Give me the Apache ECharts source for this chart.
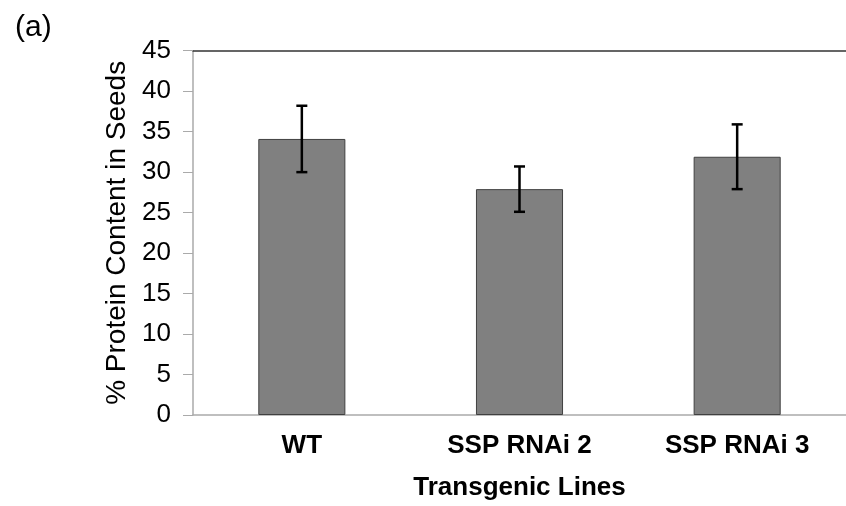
<!DOCTYPE html>
<html>
<head>
<meta charset="utf-8">
<script src="https://cdn.jsdelivr.net/npm/echarts@6/dist/echarts.min.js"></script>
<style>html,body{margin:0;padding:0;background:#fff;}#c{width:846px;height:506px;}</style>
</head>
<body>
<div id="c"></div>
<script>
var categories = ['WT', 'SSP RNAi 2', 'SSP RNAi 3'];
var proteinValues = [34.1, 27.9, 31.9];
var errorValues = [4.1, 2.8, 4.0];
var yTicks = [0, 5, 10, 15, 20, 25, 30, 35, 40, 45];

var chart = echarts.init(document.getElementById('c'), null, {renderer: 'canvas'});
var FONT = '"Liberation Sans", Arial, sans-serif';
var errData = categories.map(function (c, i) {
  return [i, proteinValues[i] - errorValues[i], proteinValues[i] + errorValues[i]];
});

chart.setOption({
  animation: false,
  backgroundColor: '#fff',
  graphic: [{
    type: 'text', left: 15, top: 13,
    style: {text: '(a)', font: '30px ' + FONT, fill: '#000'}
  }],
  grid: {left: 193, top: 50.7, width: 663, height: 365},
  xAxis: [{
    type: 'category', data: categories, position: 'bottom',
    axisLine: {lineStyle: {color: '#aaaaaa', width: 1.5}},
    axisTick: {show: false},
    axisLabel: {color: '#000', fontFamily: FONT, fontSize: 26, fontWeight: 'bold', margin: 18, lineHeight: 26},
    name: 'Transgenic Lines', nameLocation: 'middle', nameGap: 60,
    nameTextStyle: {color: '#000', fontFamily: FONT, fontSize: 26, fontWeight: 'bold', lineHeight: 26}
  }, {
    type: 'category', data: categories, position: 'top',
    axisLine: {lineStyle: {color: '#333333', width: 1.5}},
    axisTick: {show: false}, axisLabel: {show: false}
  }],
  yAxis: {
    type: 'value', min: yTicks[0], max: yTicks[yTicks.length - 1], interval: 5,
    axisLine: {show: true, lineStyle: {color: '#aaaaaa', width: 1.5}},
    axisTick: {show: true, length: 10, lineStyle: {color: '#aaaaaa', width: 1}},
    splitLine: {show: false},
    axisLabel: {color: '#000', fontFamily: FONT, fontSize: 26, margin: 22},
    name: '% Protein Content in Seeds', nameLocation: 'middle', nameGap: 62, nameRotate: 90,
    nameTextStyle: {color: '#000', fontFamily: FONT, fontSize: 28}
  },
  series: [{
    type: 'bar', data: proteinValues, barWidth: '40%',
    itemStyle: {color: '#808080', borderColor: '#404040', borderWidth: 1}
  }, {
    type: 'custom', data: errData,
    renderItem: function (params, api) {
      var x = api.value(0);
      var lo = api.coord([x, api.value(1)]);
      var hi = api.coord([x, api.value(2)]);
      var hw = 5.5;
      var st = {stroke: '#000', lineWidth: 2.5};
      return {type: 'group', children: [
        {type: 'line', shape: {x1: lo[0], y1: lo[1], x2: hi[0], y2: hi[1]}, style: st},
        {type: 'line', shape: {x1: hi[0] - hw, y1: hi[1], x2: hi[0] + hw, y2: hi[1]}, style: st},
        {type: 'line', shape: {x1: lo[0] - hw, y1: lo[1], x2: lo[0] + hw, y2: lo[1]}, style: st}
      ]};
    },
    z: 10
  }]
});
</script>
</body>
</html>
